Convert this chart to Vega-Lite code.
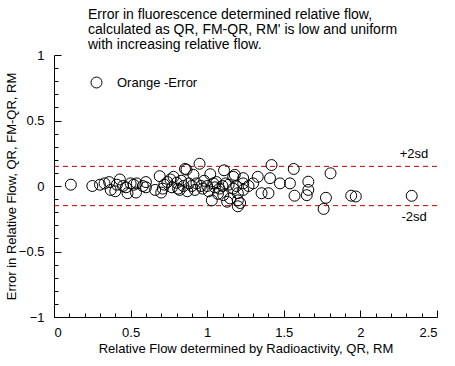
{
  "$schema": "https://vega.github.io/schema/vega-lite/v6.json",
  "width": 383,
  "height": 262,
  "autosize": "none",
  "padding": {"left": 54, "top": 55, "right": 18, "bottom": 49},
  "background": "white",
  "config": {
    "view": {"stroke": null},
    "font": "Liberation Sans",
    "axis": {"labelFont": "Liberation Sans", "titleFont": "Liberation Sans", "labelColor": "black", "titleColor": "black", "domainColor": "black", "grid": false, "labelFontSize": 13, "titleFontSize": 13, "titleFontWeight": "normal"}
  },
  "title": {
    "text": ["Error in fluorescence determined relative flow,", "calculated as QR, FM-QR, RM' is low and uniform", "with increasing relative flow."],
    "anchor": "start", "frame": "group", "dx": 34, "offset": -3,
    "fontSize": 14, "fontWeight": "normal", "font": "Liberation Sans", "lineHeight": 15, "color": "black"
  },
  "datasets": {
    "pts": [
      {"x": 0.11, "y": 0.01}, {"x": 0.25, "y": 0.0}, {"x": 0.30, "y": 0.01}, {"x": 0.33, "y": 0.02},
      {"x": 0.36, "y": 0.03}, {"x": 0.37, "y": -0.03}, {"x": 0.40, "y": -0.04}, {"x": 0.41, "y": 0.01},
      {"x": 0.43, "y": 0.05}, {"x": 0.45, "y": 0.0}, {"x": 0.47, "y": -0.01}, {"x": 0.48, "y": -0.055},
      {"x": 0.50, "y": 0.02}, {"x": 0.52, "y": 0.01}, {"x": 0.535, "y": -0.05}, {"x": 0.54, "y": 0.02},
      {"x": 0.58, "y": 0.0}, {"x": 0.60, "y": 0.03}, {"x": 0.60, "y": -0.01}, {"x": 0.66, "y": -0.03},
      {"x": 0.69, "y": 0.075}, {"x": 0.70, "y": -0.05}, {"x": 0.71, "y": -0.02}, {"x": 0.72, "y": 0.01},
      {"x": 0.74, "y": 0.03}, {"x": 0.76, "y": 0.05}, {"x": 0.77, "y": -0.01}, {"x": 0.78, "y": 0.07},
      {"x": 0.80, "y": 0.025}, {"x": 0.81, "y": -0.02}, {"x": 0.82, "y": -0.03}, {"x": 0.83, "y": 0.04},
      {"x": 0.845, "y": 0.0}, {"x": 0.855, "y": 0.13}, {"x": 0.865, "y": 0.125}, {"x": 0.87, "y": -0.04},
      {"x": 0.88, "y": 0.02}, {"x": 0.90, "y": 0.0}, {"x": 0.91, "y": 0.085}, {"x": 0.92, "y": -0.03},
      {"x": 0.93, "y": 0.02}, {"x": 0.95, "y": 0.17}, {"x": 0.96, "y": 0.0}, {"x": 0.97, "y": -0.02},
      {"x": 0.98, "y": 0.04}, {"x": 1.00, "y": 0.0}, {"x": 1.01, "y": -0.04}, {"x": 1.02, "y": 0.09},
      {"x": 1.03, "y": -0.11}, {"x": 1.04, "y": 0.02}, {"x": 1.05, "y": -0.01}, {"x": 1.06, "y": 0.03},
      {"x": 1.07, "y": -0.06}, {"x": 1.08, "y": -0.02}, {"x": 1.10, "y": 0.0}, {"x": 1.11, "y": 0.12},
      {"x": 1.105, "y": -0.07}, {"x": 1.12, "y": 0.02}, {"x": 1.13, "y": -0.12}, {"x": 1.14, "y": 0.01},
      {"x": 1.15, "y": -0.095}, {"x": 1.17, "y": 0.07}, {"x": 1.17, "y": -0.02}, {"x": 1.18, "y": 0.085},
      {"x": 1.19, "y": 0.0}, {"x": 1.20, "y": -0.11}, {"x": 1.20, "y": -0.155}, {"x": 1.20, "y": -0.055},
      {"x": 1.215, "y": -0.13}, {"x": 1.235, "y": 0.02}, {"x": 1.235, "y": 0.06}, {"x": 1.235, "y": -0.03},
      {"x": 1.27, "y": 0.0}, {"x": 1.30, "y": 0.02}, {"x": 1.33, "y": 0.07}, {"x": 1.355, "y": -0.055},
      {"x": 1.40, "y": -0.055}, {"x": 1.41, "y": 0.06}, {"x": 1.42, "y": 0.16}, {"x": 1.475, "y": 0.02},
      {"x": 1.54, "y": 0.02}, {"x": 1.565, "y": 0.13}, {"x": 1.57, "y": -0.074}, {"x": 1.65, "y": -0.07},
      {"x": 1.66, "y": 0.033}, {"x": 1.66, "y": -0.03}, {"x": 1.76, "y": -0.175}, {"x": 1.775, "y": -0.09},
      {"x": 1.805, "y": 0.097}, {"x": 1.94, "y": -0.074}, {"x": 1.97, "y": -0.08}, {"x": 2.335, "y": -0.075}
    ],
    "sd": [{"y": 0.15}, {"y": -0.15}],
    "labels": [{"x": 2.35, "y": 0.245, "t": "+2sd"}, {"x": 2.35, "y": -0.235, "t": "-2sd"}]
  },
  "resolve": {"axis": {"x": "independent", "y": "independent"}},
  "layer": [
    {
      "data": {"name": "sd"},
      "mark": {"type": "rule", "color": "#c00000", "strokeDash": [5, 4], "strokeWidth": 1},
      "encoding": {"y": {"field": "y", "type": "quantitative", "scale": {"domain": [-1, 1]}, "axis": null}}
    },
    {
      "mark": {"type": "rule", "color": "black", "strokeWidth": 1},
      "encoding": {
        "x": {"datum": 0, "type": "quantitative", "scale": {"domain": [0, 2.5]}, "axis": null},
        "x2": {"datum": 2.5},
        "y": {"datum": 0, "type": "quantitative", "axis": null}
      }
    },
    {
      "data": {"name": "pts"},
      "mark": {"type": "point", "shape": "circle", "filled": false, "size": 120, "strokeWidth": 1, "opacity": 1},
      "encoding": {
        "x": {"field": "x", "type": "quantitative", "scale": {"domain": [0, 2.5], "nice": false},
          "axis": {"orient": "bottom", "values": [0, 0.5, 1, 1.5, 2, 2.5], "format": "~g", "ticks": true, "tickSize": -7, "tickWidth": 1, "tickColor": "black", "labelPadding": 16, "title": "Relative Flow determined by Radioactivity, QR, RM", "titlePadding": 3}},
        "y": {"field": "y", "type": "quantitative", "scale": {"domain": [-1, 1], "nice": false},
          "axis": {"orient": "left", "values": [-1, -0.5, 0, 0.5, 1], "format": "~g", "ticks": true, "tickSize": -7, "tickWidth": 1, "tickColor": "black", "labelPadding": 17, "title": "Error in Relative Flow, QR, FM-QR, RM", "titlePadding": 0}},
        "color": {"datum": "Orange -Error", "type": "nominal", "scale": {"range": ["black"]},
          "legend": {"title": null, "orient": "none", "legendX": 36, "legendY": 21, "symbolType": "circle", "symbolSize": 120, "symbolStrokeWidth": 1, "symbolFillColor": "transparent", "labelFont": "Liberation Sans", "labelFontSize": 13, "labelColor": "black", "labelOffset": 14}}
      }
    },
    {
      "data": {"name": "pts"},
      "mark": {"type": "point", "opacity": 0},
      "encoding": {
        "x": {"field": "x", "type": "quantitative",
          "axis": {"orient": "bottom", "values": [0.1,0.2,0.3,0.4,0.6,0.7,0.8,0.9,1.1,1.2,1.3,1.4,1.6,1.7,1.8,1.9,2.1,2.2,2.3,2.4], "ticks": true, "tickSize": -4, "tickWidth": 1, "tickColor": "black", "labels": false, "domain": false, "title": null}},
        "y": {"field": "y", "type": "quantitative",
          "axis": {"orient": "left", "values": [-0.9,-0.8,-0.7,-0.6,-0.4,-0.3,-0.2,-0.1,0.1,0.2,0.3,0.4,0.6,0.7,0.8,0.9], "ticks": true, "tickSize": -4, "tickWidth": 1, "tickColor": "black", "labels": false, "domain": false, "title": null}}
      }
    },
    {
      "data": {"name": "labels"},
      "mark": {"type": "text", "font": "Liberation Sans", "fontSize": 13, "color": "black"},
      "encoding": {
        "x": {"field": "x", "type": "quantitative", "axis": null},
        "y": {"field": "y", "type": "quantitative", "axis": null},
        "text": {"field": "t"}
      }
    }
  ]
}
